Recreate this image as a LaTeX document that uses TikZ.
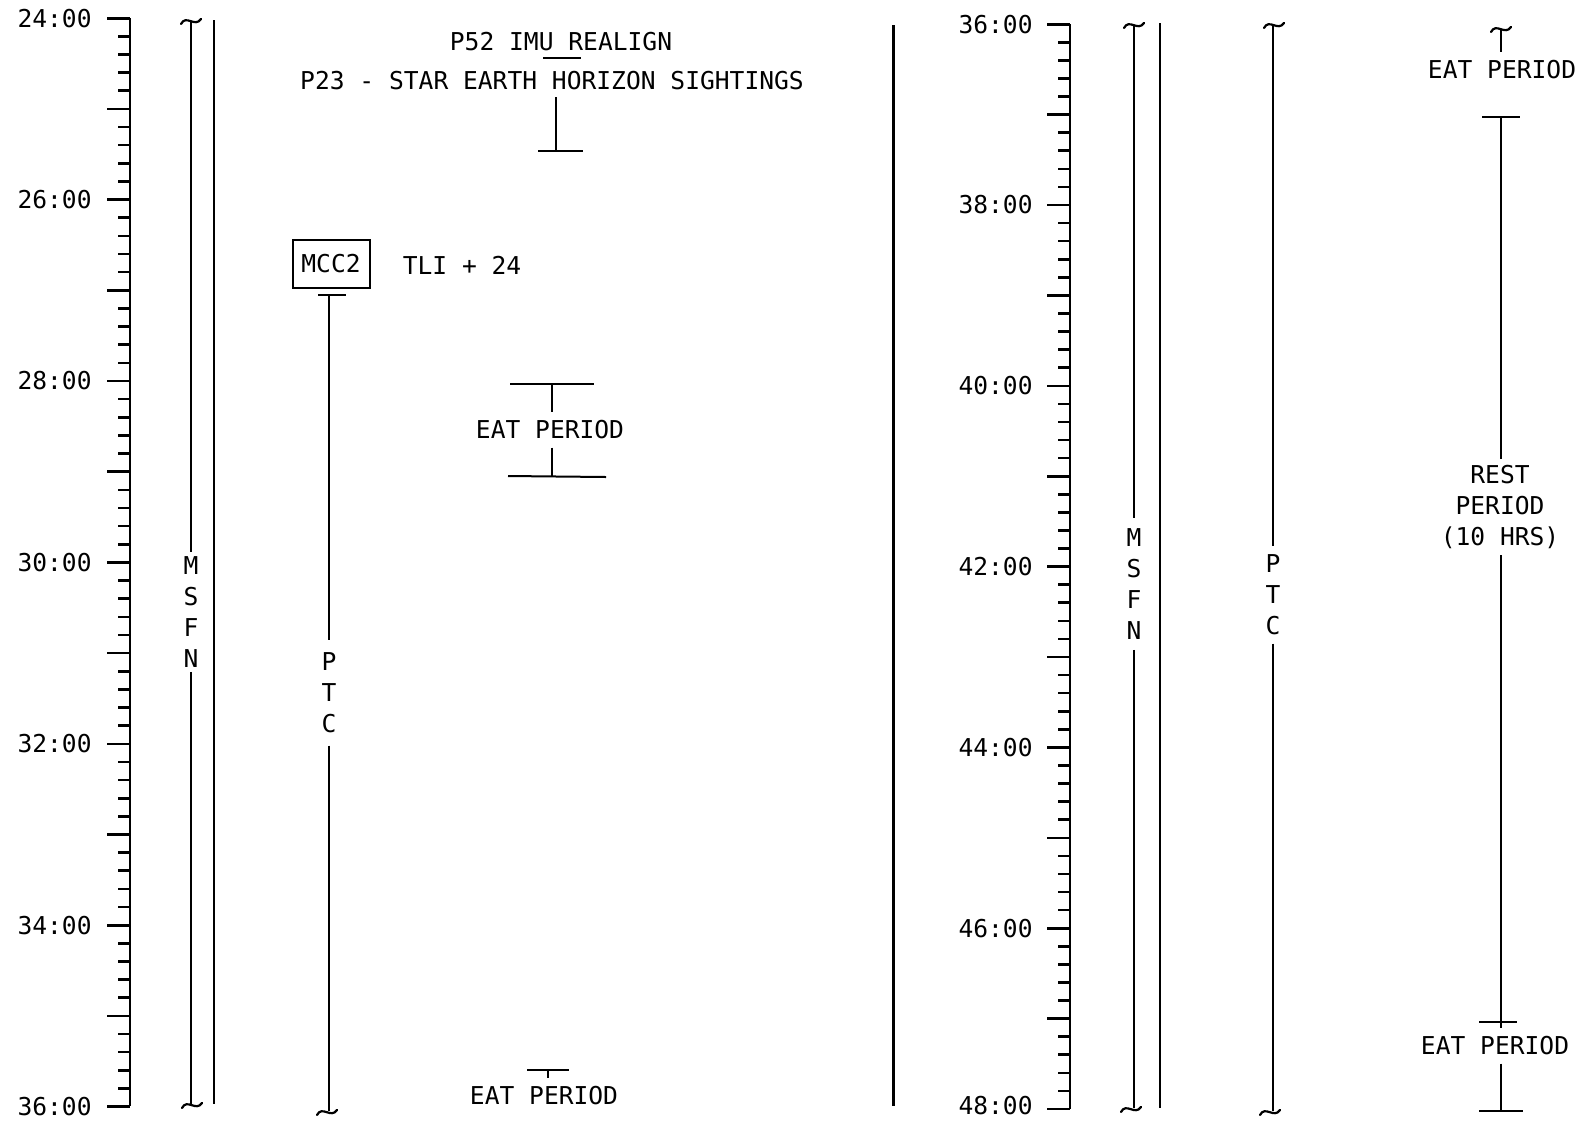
\documentclass[tikz,border=0pt]{standalone}
\usepackage{fontspec}
\newfontfamily\lettering{DejaVu Sans Mono}
\tikzset{
  lbl/.style={font=\lettering\fontsize{12.3}{15.5}\selectfont, inner sep=0pt, align=center},
  axisline/.style={line width=1.4pt},
  tickline/.style={line width=1.3pt},
  thinline/.style={line width=1pt},
  heavyline/.style={line width=1.3pt},
  divider/.style={line width=1.5pt},
  capline/.style={line width=1pt},
  brkline/.style={line width=1.1pt, line cap=round},
  boxed/.style={draw, line width=1pt, minimum width=38.5pt, minimum height=24pt, inner sep=0pt}
}
\newcommand\brkmark[2]{\draw[brkline] (#1-10,#2+3) .. controls (#1-5,#2-7) and (#1+4,#2+7) .. (#1+10,#2-2);}
\begin{document}
\begin{tikzpicture}[x=0.5pt,y=-0.5pt]
\useasboundingbox (0,0) rectangle (1584,1120);

% ---------------- LEFT PANEL ----------------
\draw[axisline] (130,18) -- (130,1106);
\foreach \i in {0,...,60}{
  \pgfmathsetmacro\ty{18.2+\i*18.14}
  \pgfmathtruncatemacro\m{mod(\i,5)}
  \ifnum\m=0 \def\tl{23}\else\def\tl{12}\fi
  \draw[tickline] (130-\tl,\ty) -- (130,\ty);
}
\foreach \h [count=\k from 0] in {24,26,28,30,32,34,36}
  \node[lbl,anchor=east] (TL\h) at (92,18.2+\k*181.4) {\h:00};

% MSFN (left)
\coordinate (mLa) at (191,22);
\coordinate (mLb) at (191,1104);
\node[lbl,inner ysep=2pt] (msfnL) at (191,612) {M\\S\\F\\N};
\draw[thinline] (mLa) -- (mLa |- msfnL.north);
\draw[thinline] (mLa |- msfnL.south) -- (mLb);
\brkmark{191}{21}
\brkmark{192}{1105}
% second line
\coordinate (sLa) at (214,20);
\coordinate (sLb) at (214,1104);
\draw[heavyline] (sLa) -- (sLb);

% MCC2 and PTC (left)
\node[lbl,boxed] (mcc) at (331,264) {MCC2};
\node[lbl] (tli) at (462,265) {TLI + 24};
\coordinate (pLa) at (329,295);
\coordinate (pLb) at (329,1111);
\draw[capline] (318,295) -- (346,295);
\node[lbl,inner ysep=6pt] (ptcL) at (329,693) {P\\T\\C};
\draw[thinline] (pLa) -- (pLa |- ptcL.north);
\draw[thinline] (pLa |- ptcL.south) -- (pLb);
\brkmark{327}{1112}

% P52 / P23
\node[lbl] (p52) at (561,42) {P52 IMU REALIGN};
\node[lbl] (p23) at (552,81) {P23 - STAR EARTH HORIZON SIGHTINGS};
\draw[capline] (543,58) -- (581,58);
\coordinate (sgA) at (556,97);
\coordinate (sgB) at (556,151);
\draw[thinline] (sgA) -- (sgB);
\draw[capline] (538,151) -- (583,151);

% EAT PERIOD 28:00
\coordinate (e1a) at (552,384);
\coordinate (e1b) at (552,476);
\draw[capline] (510,384) -- (594,384);
\node[lbl,inner ysep=4pt] (eat1) at (550,430) {EAT PERIOD};
\draw[thinline] (e1a) -- (e1a |- eat1.north);
\draw[thinline] (e1a |- eat1.south) -- (e1b);
\draw[capline] (508,476) -- (606,477);

% EAT PERIOD 36:00
\coordinate (e2a) at (548,1070);
\draw[capline] (527,1070) -- (569,1070);
\node[lbl,inner ysep=4pt] (eat2) at (544,1096) {EAT PERIOD};
\draw[thinline] (e2a) -- (e2a |- eat2.north);

% ---------------- DIVIDER ----------------
\coordinate (dvA) at (893,25);
\coordinate (dvB) at (893,1106);
\draw[divider] (dvA) -- (dvB);

% ---------------- RIGHT PANEL ----------------
\draw[axisline] (1070,24) -- (1070,1109);
\foreach \i in {0,...,60}{
  \pgfmathsetmacro\ty{24.2+\i*18.08}
  \pgfmathtruncatemacro\m{mod(\i,5)}
  \ifnum\m=0 \def\tl{23}\else\def\tl{12}\fi
  \draw[tickline] (1070-\tl,\ty) -- (1070,\ty);
}
\foreach \h [count=\k from 0] in {36,38,40,42,44,46}
  \node[lbl,anchor=east] (TR\h) at (1033,24.2+\k*180.8) {\h:00};
\node[lbl,anchor=east] (TR48) at (1033,1106) {48:00};

% MSFN (right)
\coordinate (mRa) at (1134,26);
\coordinate (mRb) at (1134,1108);
\node[lbl,inner ysep=5pt] (msfnR) at (1134,584) {M\\S\\F\\N};
\draw[thinline] (mRa) -- (mRa |- msfnR.north);
\draw[thinline] (mRa |- msfnR.south) -- (mRb);
\brkmark{1134}{25}
\brkmark{1131}{1109}
% second line
\coordinate (sRa) at (1160,23);
\coordinate (sRb) at (1160,1108);
\draw[heavyline] (sRa) -- (sRb);

% PTC (right)
\coordinate (pRa) at (1273,26);
\coordinate (pRb) at (1273,1111);
\node[lbl,inner ysep=4pt] (ptcR) at (1273,595) {P\\T\\C};
\draw[thinline] (pRa) -- (pRa |- ptcR.north);
\draw[thinline] (pRa |- ptcR.south) -- (pRb);
\brkmark{1274}{25}
\brkmark{1270}{1112}

% EAT PERIOD (top right)
\coordinate (e3a) at (1501,30);
\coordinate (e3b) at (1501,52);
\draw[thinline] (e3a) -- (e3b);
\brkmark{1501}{29}
\node[lbl] (eat3) at (1502,70) {EAT PERIOD};

% REST PERIOD
\coordinate (rA) at (1501,117);
\coordinate (rB) at (1501,1111);
\draw[capline] (1482,117) -- (1520,117);
\node[lbl,inner ysep=3pt] (rest) at (1500,507) {REST\\PERIOD\\(10 HRS)};
\draw[thinline] (rA) -- (rA |- rest.north);
\node[lbl,inner ysep=4pt] (eat4) at (1495,1046) {EAT PERIOD};
\draw[thinline] (rA |- rest.south) -- (rA |- eat4.north);
\draw[capline] (1479,1022) -- (1517,1022);
\draw[thinline] (rA |- eat4.south) -- (rB);
\draw[capline] (1479,1111) -- (1523,1111);
\end{tikzpicture}
\end{document}
